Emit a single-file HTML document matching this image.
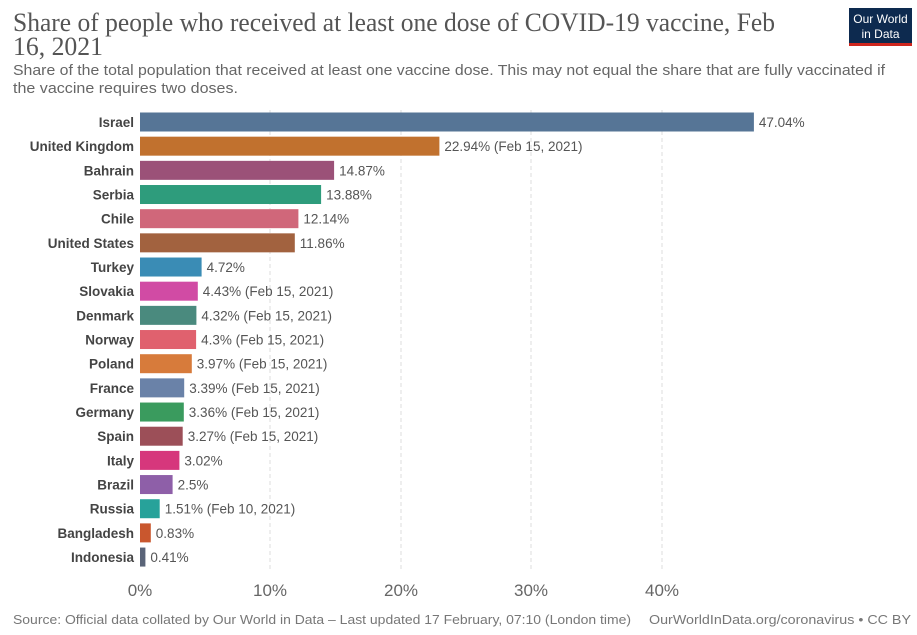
<!DOCTYPE html>
<html><head><meta charset="utf-8"><style>body{margin:0;background:#fff}svg{display:block}</style></head><body>
<svg width="917" height="635" xmlns="http://www.w3.org/2000/svg" font-family="Liberation Sans, sans-serif">
<text x="13" y="31" font-family="Liberation Serif, serif" font-size="26" fill="#555" textLength="762" lengthAdjust="spacingAndGlyphs">Share of people who received at least one dose of COVID-19 vaccine, Feb</text>
<text x="13" y="55" font-family="Liberation Serif, serif" font-size="26" fill="#555" textLength="90" lengthAdjust="spacingAndGlyphs">16, 2021</text>
<text x="13" y="75" font-size="15" fill="#666" textLength="872" lengthAdjust="spacingAndGlyphs">Share of the total population that received at least one vaccine dose. This may not equal the share that are fully vaccinated if</text>
<text x="13" y="93" font-size="15" fill="#666" textLength="225" lengthAdjust="spacingAndGlyphs">the vaccine requires two doses.</text>
<rect x="849" y="8" width="63" height="38" fill="#0d2a4f"/><rect x="849" y="43" width="63" height="3" fill="#ce261e"/>
<text x="880.5" y="23" font-size="12" fill="#fff" text-anchor="middle">Our World</text>
<text x="880.5" y="38" font-size="12" fill="#fff" text-anchor="middle">in Data</text>
<g stroke="#ddd" stroke-dasharray="4,3"><line x1="270" y1="110" x2="270" y2="570"/><line x1="401" y1="110" x2="401" y2="570"/><line x1="531" y1="110" x2="531" y2="570"/><line x1="662" y1="110" x2="662" y2="570"/></g>
<g font-size="13.5">
<g transform="translate(0,122)"><rect x="140" y="-9.5" width="613.9" height="19" fill="#567596"/><text x="134" y="5" text-anchor="end" font-weight="bold" fill="#444">Israel</text><text x="758.9" y="5" fill="#555">47.04%</text></g>
<g transform="translate(0,146.17)"><rect x="140" y="-9.5" width="299.4" height="19" fill="#c1712e"/><text x="134" y="5" text-anchor="end" font-weight="bold" fill="#444">United Kingdom</text><text x="444.4" y="5" fill="#555">22.94% (Feb 15, 2021)</text></g>
<g transform="translate(0,170.34)"><rect x="140" y="-9.5" width="194.1" height="19" fill="#9b5178"/><text x="134" y="5" text-anchor="end" font-weight="bold" fill="#444">Bahrain</text><text x="339.1" y="5" fill="#555">14.87%</text></g>
<g transform="translate(0,194.51)"><rect x="140" y="-9.5" width="181.1" height="19" fill="#2e9c7c"/><text x="134" y="5" text-anchor="end" font-weight="bold" fill="#444">Serbia</text><text x="326.1" y="5" fill="#555">13.88%</text></g>
<g transform="translate(0,218.68)"><rect x="140" y="-9.5" width="158.4" height="19" fill="#d0677a"/><text x="134" y="5" text-anchor="end" font-weight="bold" fill="#444">Chile</text><text x="303.4" y="5" fill="#555">12.14%</text></g>
<g transform="translate(0,242.85)"><rect x="140" y="-9.5" width="154.8" height="19" fill="#a2623f"/><text x="134" y="5" text-anchor="end" font-weight="bold" fill="#444">United States</text><text x="299.8" y="5" fill="#555">11.86%</text></g>
<g transform="translate(0,267.02)"><rect x="140" y="-9.5" width="61.6" height="19" fill="#3a8cb5"/><text x="134" y="5" text-anchor="end" font-weight="bold" fill="#444">Turkey</text><text x="206.6" y="5" fill="#555">4.72%</text></g>
<g transform="translate(0,291.19)"><rect x="140" y="-9.5" width="57.8" height="19" fill="#d14ba4"/><text x="134" y="5" text-anchor="end" font-weight="bold" fill="#444">Slovakia</text><text x="202.8" y="5" fill="#555">4.43% (Feb 15, 2021)</text></g>
<g transform="translate(0,315.36)"><rect x="140" y="-9.5" width="56.4" height="19" fill="#4a8a7e"/><text x="134" y="5" text-anchor="end" font-weight="bold" fill="#444">Denmark</text><text x="201.4" y="5" fill="#555">4.32% (Feb 15, 2021)</text></g>
<g transform="translate(0,339.53)"><rect x="140" y="-9.5" width="56.1" height="19" fill="#e0616e"/><text x="134" y="5" text-anchor="end" font-weight="bold" fill="#444">Norway</text><text x="201.1" y="5" fill="#555">4.3% (Feb 15, 2021)</text></g>
<g transform="translate(0,363.7)"><rect x="140" y="-9.5" width="51.8" height="19" fill="#d77b3b"/><text x="134" y="5" text-anchor="end" font-weight="bold" fill="#444">Poland</text><text x="196.8" y="5" fill="#555">3.97% (Feb 15, 2021)</text></g>
<g transform="translate(0,387.87)"><rect x="140" y="-9.5" width="44.2" height="19" fill="#6a82a8"/><text x="134" y="5" text-anchor="end" font-weight="bold" fill="#444">France</text><text x="189.2" y="5" fill="#555">3.39% (Feb 15, 2021)</text></g>
<g transform="translate(0,412.04)"><rect x="140" y="-9.5" width="43.8" height="19" fill="#3a9b5e"/><text x="134" y="5" text-anchor="end" font-weight="bold" fill="#444">Germany</text><text x="188.8" y="5" fill="#555">3.36% (Feb 15, 2021)</text></g>
<g transform="translate(0,436.21)"><rect x="140" y="-9.5" width="42.7" height="19" fill="#9c4f58"/><text x="134" y="5" text-anchor="end" font-weight="bold" fill="#444">Spain</text><text x="187.7" y="5" fill="#555">3.27% (Feb 15, 2021)</text></g>
<g transform="translate(0,460.38)"><rect x="140" y="-9.5" width="39.4" height="19" fill="#d6377c"/><text x="134" y="5" text-anchor="end" font-weight="bold" fill="#444">Italy</text><text x="184.4" y="5" fill="#555">3.02%</text></g>
<g transform="translate(0,484.55)"><rect x="140" y="-9.5" width="32.6" height="19" fill="#8e5fa8"/><text x="134" y="5" text-anchor="end" font-weight="bold" fill="#444">Brazil</text><text x="177.6" y="5" fill="#555">2.5%</text></g>
<g transform="translate(0,508.72)"><rect x="140" y="-9.5" width="19.7" height="19" fill="#27a29a"/><text x="134" y="5" text-anchor="end" font-weight="bold" fill="#444">Russia</text><text x="164.7" y="5" fill="#555">1.51% (Feb 10, 2021)</text></g>
<g transform="translate(0,532.89)"><rect x="140" y="-9.5" width="10.8" height="19" fill="#c9572e"/><text x="134" y="5" text-anchor="end" font-weight="bold" fill="#444">Bangladesh</text><text x="155.8" y="5" fill="#555">0.83%</text></g>
<g transform="translate(0,557.06)"><rect x="140" y="-9.5" width="5.4" height="19" fill="#5a6478"/><text x="134" y="5" text-anchor="end" font-weight="bold" fill="#444">Indonesia</text><text x="150.4" y="5" fill="#555">0.41%</text></g>
</g>
<g font-size="17" fill="#666" text-anchor="middle"><text x="140" y="596">0%</text><text x="270" y="596">10%</text><text x="401" y="596">20%</text><text x="531" y="596">30%</text><text x="662" y="596">40%</text></g>
<text x="13" y="624" font-size="13" fill="#777" textLength="618" lengthAdjust="spacingAndGlyphs">Source: Official data collated by Our World in Data – Last updated 17 February, 07:10 (London time)</text>
<text x="911" y="624" font-size="13" fill="#777" text-anchor="end" textLength="262" lengthAdjust="spacingAndGlyphs">OurWorldInData.org/coronavirus • CC BY</text>
</svg>
</body></html>
